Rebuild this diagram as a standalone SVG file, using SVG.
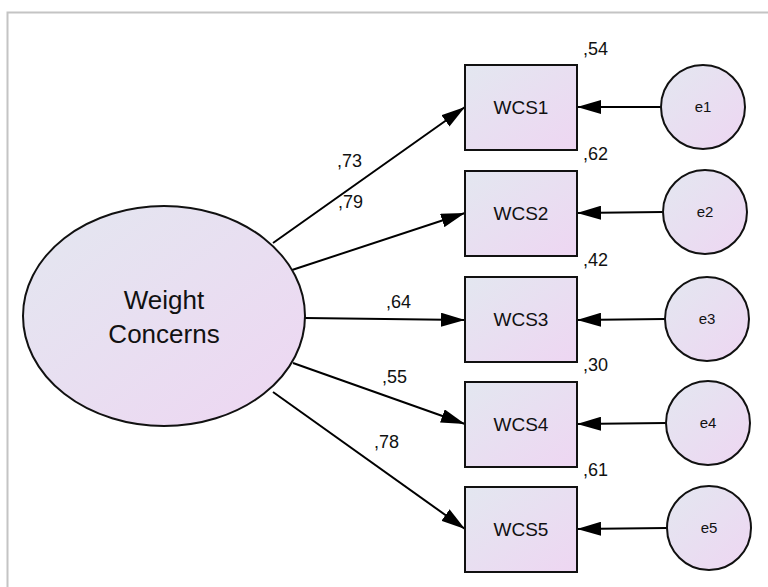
<svg xmlns="http://www.w3.org/2000/svg" width="768" height="587" viewBox="0 0 768 587">
<style>
.n{stroke:#111;stroke-width:2;fill:url(#g)}
.c line{stroke:#000;stroke-width:2;marker-end:url(#a)}
text{font-family:"Liberation Sans",Arial,sans-serif;fill:#111}
.lbl{font-size:18px}
.box{font-size:19px;text-anchor:middle}
.err{font-size:15px;text-anchor:middle}
.big{font-size:26px;text-anchor:middle}
</style>
<defs>
<linearGradient id="g" x1="0" y1="0" x2="1" y2="1">
<stop offset="0" stop-color="#e3e7f0"/>
<stop offset="1" stop-color="#eed6f2"/>
</linearGradient>
<marker id="a" viewBox="0 0 24 14" refX="24" refY="7" markerWidth="24" markerHeight="14" markerUnits="userSpaceOnUse" orient="auto">
<path d="M0,0 L24,7 L0,14 Z" fill="#000"/>
</marker>
</defs>
<rect x="0" y="0" width="768" height="587" fill="#fff"/>
<rect x="7.5" y="12.5" width="780" height="600" fill="none" stroke="#c4c4c4" stroke-width="2"/>
<g class="c" id="connectors">
<line x1="273" y1="243" x2="465" y2="107"/>
<line x1="292" y1="270" x2="465" y2="213"/>
<line x1="305" y1="318" x2="465" y2="320"/>
<line x1="293" y1="363" x2="465" y2="424"/>
<line x1="273" y1="392" x2="465" y2="529"/>
<line x1="661" y1="107" x2="577" y2="107"/>
<line x1="663" y1="212" x2="577" y2="213"/>
<line x1="665" y1="319" x2="577" y2="320"/>
<line x1="666" y1="423" x2="577" y2="424"/>
<line x1="667" y1="528" x2="577" y2="529"/>
</g>
<g id="labels">
<text class="lbl" x="337" y="167">,73</text>
<text class="lbl" x="338" y="208">,79</text>
<text class="lbl" x="386" y="308">,64</text>
<text class="lbl" x="382" y="383">,55</text>
<text class="lbl" x="374" y="448">,78</text>
</g>
<g id="latent"><ellipse class="n" cx="164" cy="316" rx="141" ry="110" stroke-width="1.6"/><text class="big" x="164" y="309">Weight</text><text class="big" x="164" y="343">Concerns</text></g>
<g id="wcs1"><rect class="n" x="465" y="65" width="112" height="85"/><text class="box" x="521" y="114">WCS1</text><text class="lbl" x="583" y="55">,54</text></g>
<g id="wcs2"><rect class="n" x="465" y="171" width="112" height="85"/><text class="box" x="521" y="220">WCS2</text><text class="lbl" x="583" y="160">,62</text></g>
<g id="wcs3"><rect class="n" x="465" y="277" width="112" height="85"/><text class="box" x="521" y="326">WCS3</text><text class="lbl" x="583" y="266">,42</text></g>
<g id="wcs4"><rect class="n" x="465" y="382" width="112" height="85"/><text class="box" x="521" y="431">WCS4</text><text class="lbl" x="583" y="371">,30</text></g>
<g id="wcs5"><rect class="n" x="465" y="487" width="112" height="85"/><text class="box" x="521" y="536">WCS5</text><text class="lbl" x="583" y="476">,61</text></g>
<g id="e1"><circle class="n" cx="703" cy="107" r="42"/><text class="err" x="703" y="112">e1</text></g>
<g id="e2"><circle class="n" cx="705" cy="212" r="42"/><text class="err" x="705" y="217">e2</text></g>
<g id="e3"><circle class="n" cx="707" cy="319" r="42"/><text class="err" x="707" y="324">e3</text></g>
<g id="e4"><circle class="n" cx="708" cy="423" r="42"/><text class="err" x="708" y="428">e4</text></g>
<g id="e5"><circle class="n" cx="709" cy="528" r="42"/><text class="err" x="709" y="533">e5</text></g>
</svg>
